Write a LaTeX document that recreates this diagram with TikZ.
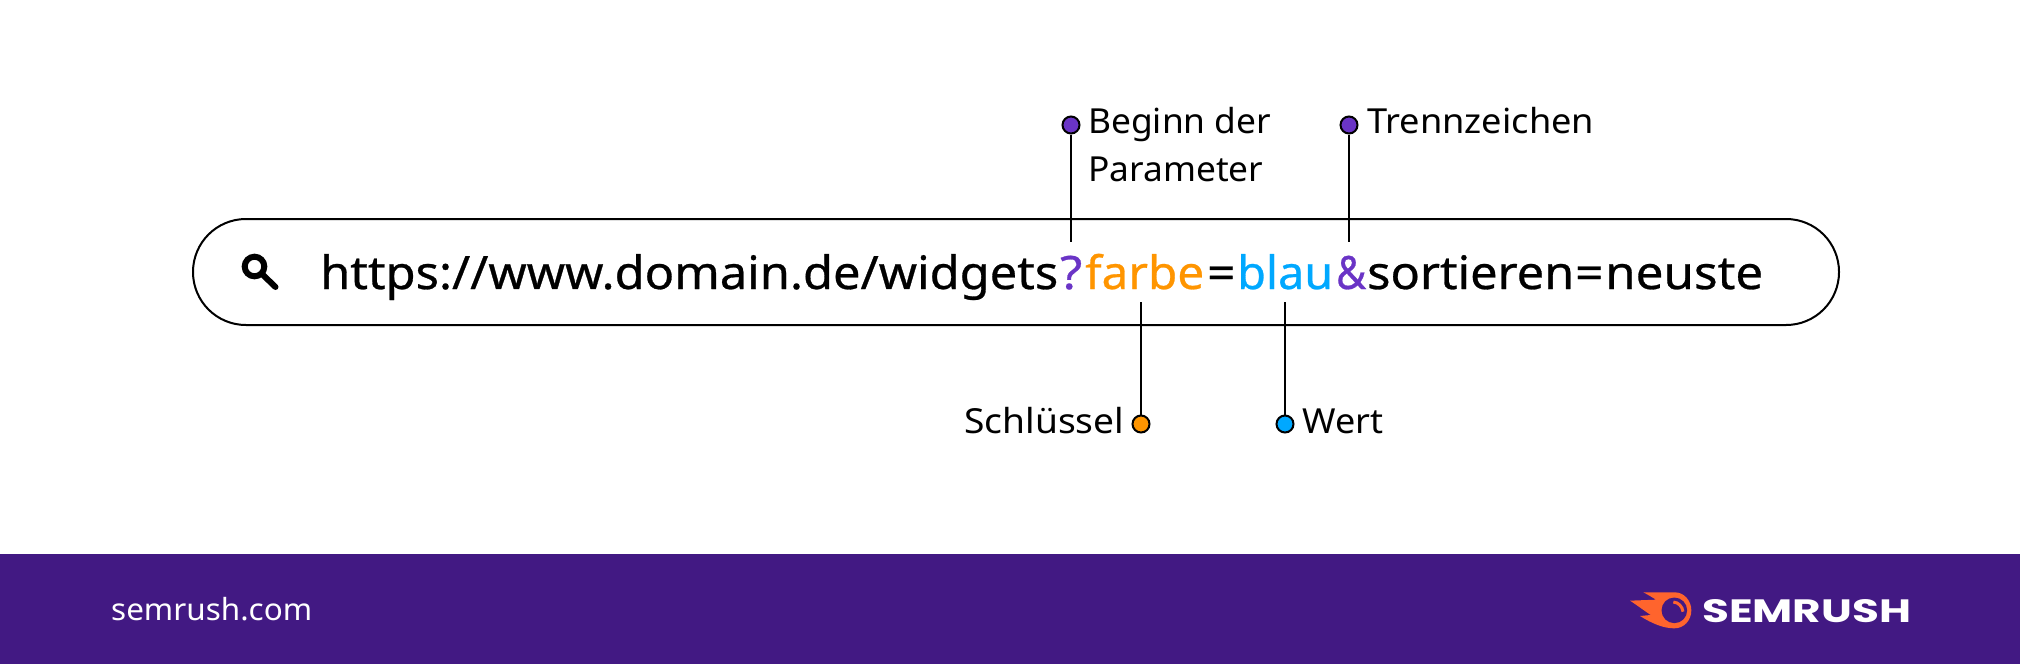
\documentclass[tikz,border=0pt]{standalone}
\usepackage{graphicx}
\usepackage{fontspec}
\setmainfont{Noto Sans}
\newfontfamily\urlfont[FakeBold=0.6]{Noto Sans}
\newfontfamily\logofont{Poppins}
\definecolor{bandpurple}{HTML}{421983}
\definecolor{markpurple}{HTML}{6A34C6}
\definecolor{markorange}{HTML}{FF9500}
\definecolor{markblue}{HTML}{00A8FF}
\definecolor{flame}{HTML}{FF642D}
\newcommand{\fitw}[2]{\resizebox{#1pt}{\height}{#2}}
\tikzset{
  urltext/.style={inner sep=0pt,anchor=base west,font=\urlfont\fontsize{46}{50}\selectfont},
  label/.style={inner sep=0pt,anchor=base west,font=\fontsize{34.5}{40}\selectfont},
  dotmark/.style={circle,draw=black,line width=2pt,minimum size=17pt,inner sep=0pt},
  lead/.style={draw=black,line width=2pt},
}
\begin{document}
\begin{tikzpicture}[x=1pt,y=-1pt]
\useasboundingbox (0,0) rectangle (2020,664);
\fill[white] (0,0) rectangle (2020,664);
\fill[bandpurple] (0,554) rectangle (2020,664);
% search bar
\draw[line width=2pt,rounded corners=52.9pt] (193,219) rectangle (1839,325);
% magnifier
\draw[line width=6pt] (254.5,266.5) circle (9.8pt);
\draw[line width=6pt,line cap=round] (262.5,274.5) -- (275.5,287);
% url
\node[urltext] (u1) at (320,289) {\fitw{738}{https://www.domain.de/widgets}};
\node[urltext,text=markpurple] (u2) at (1060,289) {\fitw{22}{?}};
\node[urltext,text=markorange] (u3) at (1085,289) {\fitw{119}{farbe}};
\node[urltext] (u4) at (1207,289) {\fitw{28}{=}};
\node[urltext,text=markblue] (u5) at (1237,289) {\fitw{96}{blau}};
\node[urltext,text=markpurple] (u6) at (1336,289) {\fitw{30}{\&}};
\node[urltext] (u7) at (1367,289) {\fitw{207}{sortieren}};
\node[urltext] (u8) at (1575,289) {\fitw{28}{=}};
\node[urltext] (u9) at (1605,289) {\fitw{158}{neuste}};
% markers
\node[dotmark,fill=markpurple] (d1) at (1071,125) {};
\node[dotmark,fill=markpurple] (d2) at (1349,125) {};
\node[dotmark,fill=markorange] (d3) at (1141,424) {};
\node[dotmark,fill=markblue] (d4) at (1285,424) {};
\coordinate (e1) at (1071,242);
\coordinate (e2) at (1349,242);
\coordinate (e3) at (1141,302);
\coordinate (e4) at (1285,302);
\draw[lead] (d1) -- (e1);
\draw[lead] (d2) -- (e2);
\draw[lead] (d3) -- (e3);
\draw[lead] (d4) -- (e4);
% labels
\node[label] (l1) at (1088,133) {\fitw{183}{Beginn der}};
\node[label] (l2) at (1088,181) {\fitw{175}{Parameter}};
\node[label] (l3) at (1367,133) {\fitw{227}{Trennzeichen}};
\node[label] (l4) at (964,433) {\fitw{160}{Schlüssel}};
\node[label] (l5) at (1302,433) {\fitw{81}{Wert}};
% footer
\node[inner sep=0pt,anchor=base west,text=white,font=\fontsize{30.5}{36}\selectfont] (f1) at (111,620) {\fitw{201}{semrush.com}};
% logo
\begin{scope}[shift={(1620,585)},x=0.3333pt,y=-0.3333pt]
\fill[flame] (70,22) -- (165,22) .. controls (192,22) and (214,47) .. (214,76)
  .. controls (214,106) and (192,130) .. (163,130)
  .. controls (130,130) and (95,115) .. (60,93) -- (92,90)
  .. controls (70,75) and (50,60) .. (30,47) -- (108,44)
  .. controls (95,36) and (82,28) .. (70,22) -- cycle;
\fill[bandpurple] (163,76) circle (12.8pt);
\draw[flame,line width=3pt] (160,51) .. controls (175,52) and (187,64) .. (189,80);
\end{scope}
\node[inner sep=0pt,anchor=base west,text=white,font=\logofont\bfseries\fontsize{32}{36}\selectfont] (logo) at (1702,622) {\resizebox{209pt}{23pt}{SEMRUSH}};
\end{tikzpicture}
\end{document}
